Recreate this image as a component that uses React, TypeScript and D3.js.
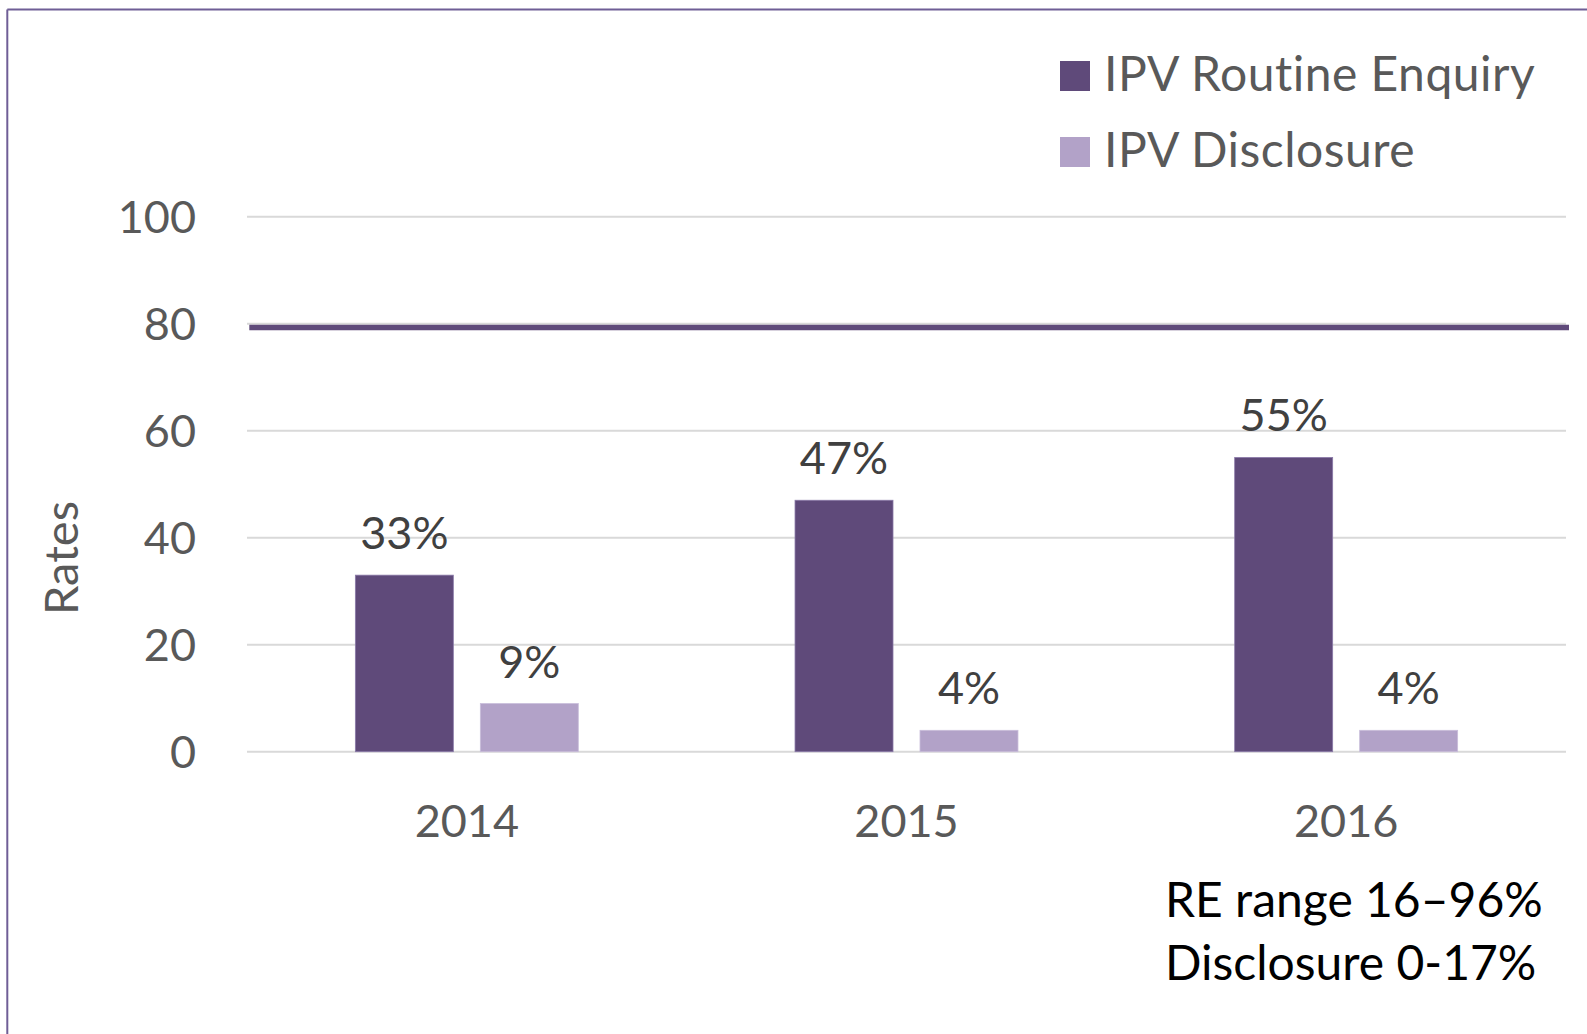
import React from 'react';
import * as d3 from 'd3';

const categories = ['2014', '2015', '2016'];
const seriesNames = ['IPV Routine Enquiry', 'IPV Disclosure'];
const routineEnquiry = [33, 47, 55];
const disclosure = [9, 4, 4];
const yTicks = [0, 20, 40, 60, 80, 100];
const targetRate = 79.3;
const notes = ['RE range 16–96%', 'Disclosure 0-17%'];
const yAxisTitle = 'Rates';

const colors = ['#5f4a7a', '#b2a2c8'];
const FONT = 'Lato, "Open Sans", sans-serif';

export default function App() {
  const W = 1587;
  const H = 1034;
  const x0 = d3.scaleBand<string>().domain(categories).range([247, 1566]).padding(0);
  const x1 = d3
    .scaleBand<string>()
    .domain(seriesNames)
    .range([0, x0.bandwidth()])
    .paddingInner(0.216)
    .paddingOuter(0.867);
  const y = d3.scaleLinear().domain([0, 100]).range([751.7, 216.7]);
  const series = [routineEnquiry, disclosure];
  const fs = 45;

  return (
    <svg
      width={W}
      height={H}
      style={{ position: 'absolute', left: 0, top: 0, background: '#fff', fontVariantLigatures: 'none' }}
      fontFamily={FONT}
    >
      <rect x={0} y={0} width={W} height={H} fill="#fff" />
      {/* outer border */}
      <line x1={7.3} x2={W} y1={9.5} y2={9.5} stroke="#6f5e96" strokeWidth={2} />
      <line x1={7.3} x2={7.3} y1={9.5} y2={H} stroke="#6f5e96" strokeWidth={2} />

      {/* gridlines */}
      {yTicks.map((t) => (
        <line
          key={'g' + t}
          x1={x0.range()[0]}
          x2={x0.range()[1]}
          y1={y(t)}
          y2={y(t)}
          stroke="#d9d9d9"
          strokeWidth={2}
        />
      ))}
      {/* y tick labels */}
      {yTicks.map((t) => (
        <text
          key={'t' + t}
          x={196}
          y={y(t)}
          dy="0.36em"
          textAnchor="end"
          fontSize={fs}
          fill="#595959"
        >
          {t}
        </text>
      ))}
      {/* axis title */}
      <text
        transform={`translate(${78},${558}) rotate(-90)`}
        textAnchor="middle"
        fontSize={47}
        fill="#595959"
      >
        {yAxisTitle}
      </text>

      {/* bars */}
      {categories.map((c, i) =>
        series.map((vals, s) => {
          const bx = (x0(c) as number) + (x1(seriesNames[s]) as number);
          const bw = x1.bandwidth();
          const top = y(vals[i]);
          return (
            <g key={c + s}>
              <rect
                x={bx}
                y={top}
                width={bw}
                height={y(0) - top}
                fill={colors[s]}
                stroke={s === 0 ? '#8a7aa8' : '#c9bedb'}
                strokeWidth={0.8}
              />
              <text
                x={bx + bw / 2}
                y={top - 26}
                textAnchor="middle"
                fontSize={fs}
                fill="#404040"
              >
                {vals[i] + '%'}
              </text>
            </g>
          );
        })
      )}

      {/* x labels */}
      {categories.map((c) => (
        <text
          key={'x' + c}
          x={(x0(c) as number) + x0.bandwidth() / 2}
          y={836.7}
          textAnchor="middle"
          fontSize={fs}
          fill="#595959"
        >
          {c}
        </text>
      ))}

      {/* target line */}
      <line
        x1={249.3}
        x2={1569}
        y1={y(targetRate)}
        y2={y(targetRate)}
        stroke="#5f4a7a"
        strokeWidth={5.5}
      />

      {/* legend */}
      {seriesNames.map((n, i) => (
        <g key={'l' + n} transform={`translate(1060,${61 + i * 76})`}>
          <rect x={0} y={0} width={30} height={30} fill={colors[i]} />
          <text x={44} y={30} fontSize={48} letterSpacing={0.5} fill="#595959">
            {n}
          </text>
        </g>
      ))}

      {/* notes */}
      {notes.map((n, i) => (
        <text key={'n' + i} x={1165} y={917 + i * 63} fontSize={48} fill="#000">
          {n}
        </text>
      ))}
    </svg>
  );
}
